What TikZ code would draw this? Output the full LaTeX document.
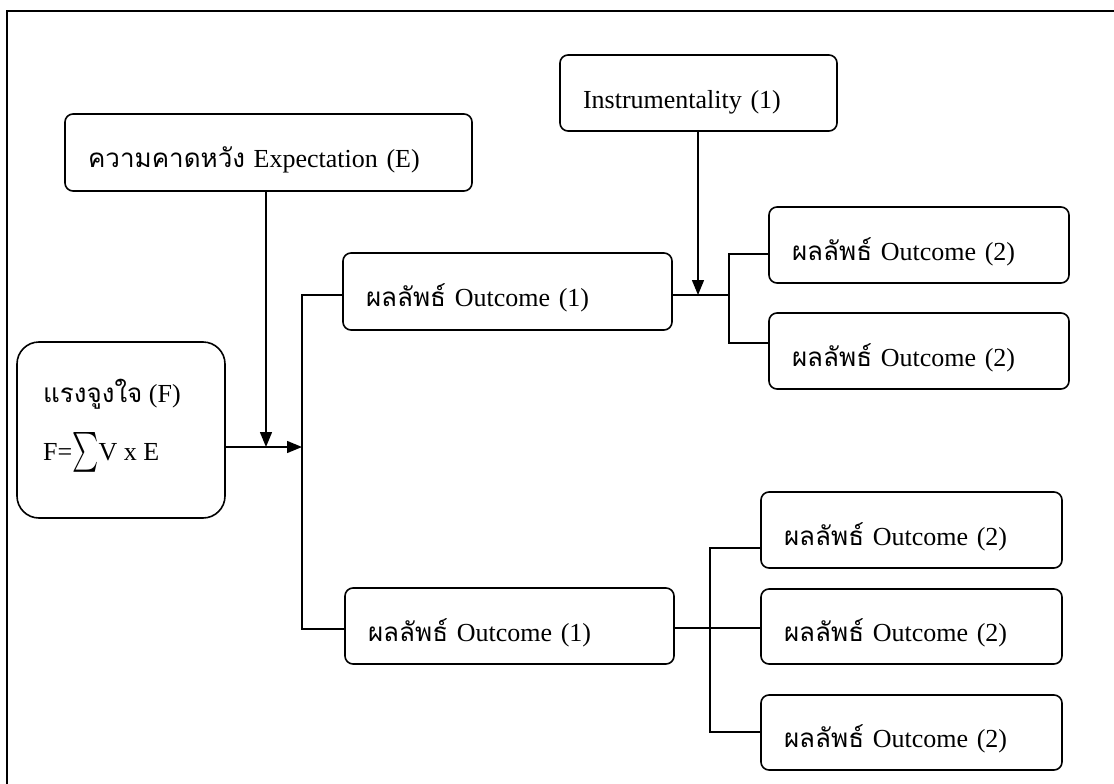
\documentclass[tikz,border=0pt]{standalone}
\usepackage{fontspec}
\usepackage{exscale}
\usepackage{graphicx}
\setmainfont{Liberation Serif}
\newfontfamily\thai[Script=Thai]{Loma}
\usetikzlibrary{arrows.meta}
\begin{document}
\begin{tikzpicture}[x=1pt,y=-1pt,
  every node/.style={font=\fontsize{26}{31}\selectfont},
  box/.style={draw,line width=1.6pt,rounded corners=8pt,inner xsep=23pt,
    inner ysep=0pt,align=left,text height=30pt,text depth=0pt},
  conn/.style={line width=1.4pt},
  arr/.style={conn,-{Triangle[length=15pt,width=12pt]}}]
\useasboundingbox (0,0) rectangle (1114,784);
% frame
\draw[line width=2pt] (7,800) -- (7,11) -- (1130,11);
% boxes (centre, width, height)
\node[box,text width=361pt,minimum height=77pt] (E) at (268.5,152.5) {{\thai ความคาดหวัง} Expectation (E)};
\node[box,text width=231pt,minimum height=76pt] (I) at (698.5,93) {Instrumentality (1)};
\node[box,text width=283pt,minimum height=77pt] (O1a) at (507.5,291.5) {{\thai ผลลัพธ์} Outcome (1)};
\node[box,text width=283pt,minimum height=76pt] (O1b) at (509.5,626) {{\thai ผลลัพธ์} Outcome (1)};
\node[box,text width=254pt,minimum height=76pt] (O2a) at (919,245) {{\thai ผลลัพธ์} Outcome (2)};
\node[box,text width=254pt,minimum height=76pt] (O2b) at (919,351) {{\thai ผลลัพธ์} Outcome (2)};
\node[box,text width=255pt,minimum height=76pt] (O2c) at (911.5,530) {{\thai ผลลัพธ์} Outcome (2)};
\node[box,text width=255pt,minimum height=75pt] (O2d) at (911.5,626.5) {{\thai ผลลัพธ์} Outcome (2)};
\node[box,text width=255pt,minimum height=75pt] (O2e) at (911.5,732.5) {{\thai ผลลัพธ์} Outcome (2)};
% motivation box
\node[draw,line width=1.6pt,rounded corners=22pt,minimum width=208pt,minimum height=176pt,inner sep=0pt] (F) at (121,430) {};
\node[anchor=base west,inner sep=0pt] (F1) at (43,402) {{\thai แรงจูงใจ} (F)};
\node[anchor=base west,inner sep=0pt] (F2) at (43,460) {F=\raisebox{-2pt}{\scalebox{1}[1.6]{$\sum$}}V x E};
% junction coordinates
\coordinate (jE) at (266,447);
\coordinate (jB) at (302,447);
\coordinate (bT) at (302,295);
\coordinate (bB) at (302,629);
\coordinate (jI) at (698,295);
\coordinate (kT) at (729,254);
\coordinate (kM) at (729,295);
\coordinate (kB) at (729,343);
\coordinate (mT) at (710,548);
\coordinate (mM) at (710,628);
\coordinate (mB) at (710,732);
% connectors
\draw[arr] (E.south -| jE) -- (jE);
\draw[arr] (jB -| F.east) -- (jB);
\draw[conn] (bT -| O1a.west) -- (bT) -- (bB) -- (bB -| O1b.west);
\draw[arr] (I.south -| jI) -- (jI);
\draw[conn] (kM -| O1a.east) -- (kM);
\draw[conn] (kT -| O2a.west) -- (kT) -- (kB) -- (kB -| O2b.west);
\draw[conn] (mM -| O1b.east) -- (mM -| O2d.west);
\draw[conn] (mT -| O2c.west) -- (mT) -- (mB) -- (mB -| O2e.west);
\end{tikzpicture}
\end{document}
